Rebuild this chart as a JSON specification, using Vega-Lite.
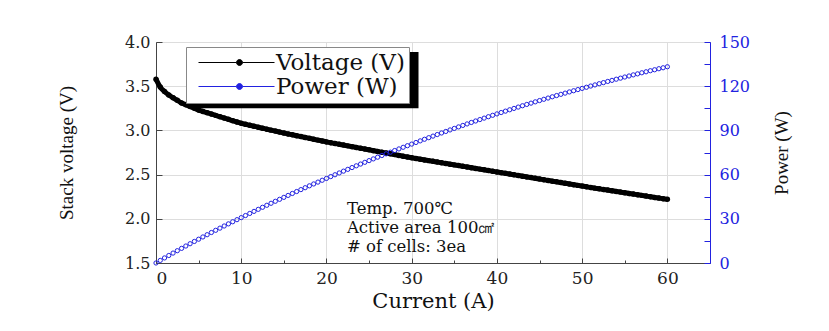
{
  "$schema": "https://vega.github.io/schema/vega-lite/v6.json",
  "width": 554,
  "height": 221,
  "autosize": {"type": "none"},
  "padding": {"left": 156, "top": 42, "right": 119, "bottom": 68},
  "background": "white",
  "config": {
    "view": {"stroke": "#555555", "strokeWidth": 1},
    "font": "DejaVu Serif",
    "axis": {"titleFontWeight": "normal", "labelFont": "DejaVu Serif", "titleFont": "DejaVu Serif"},
    "legend": {
      "orient": "none",
      "legendX": 30,
      "legendY": 5,
      "strokeColor": "#888888",
      "fillColor": "white",
      "padding": 4,
      "rowPadding": 0,
      "labelFont": "DejaVu Serif",
      "labelFontSize": 23,
      "labelColor": "#111111",
      "labelOffset": 63,
      "symbolSize": 100,
      "symbolType": "M-0.6,0H7M8.2,0H14.6M7,0A0.6,0.6 0 1,0 8.2,0A0.6,0.6 0 1,0 7,0",
      "symbolStrokeWidth": 1
    }
  },
  "data": {
    "values": [
      {"I": 0, "V": 3.58, "P": 0},
      {"I": 0.5, "V": 3.49, "P": 1.75},
      {"I": 1, "V": 3.44, "P": 3.44},
      {"I": 1.5, "V": 3.4, "P": 5.1},
      {"I": 2, "V": 3.37, "P": 6.74},
      {"I": 2.5, "V": 3.34, "P": 8.35},
      {"I": 3, "V": 3.31, "P": 9.93},
      {"I": 3.5, "V": 3.29, "P": 11.52},
      {"I": 4, "V": 3.27, "P": 13.08},
      {"I": 4.5, "V": 3.25, "P": 14.63},
      {"I": 5, "V": 3.23, "P": 16.15},
      {"I": 5.5, "V": 3.215, "P": 17.68},
      {"I": 6, "V": 3.2, "P": 19.2},
      {"I": 6.5, "V": 3.185, "P": 20.7},
      {"I": 7, "V": 3.17, "P": 22.19},
      {"I": 7.5, "V": 3.155, "P": 23.66},
      {"I": 8, "V": 3.14, "P": 25.12},
      {"I": 8.5, "V": 3.125, "P": 26.56},
      {"I": 9, "V": 3.11, "P": 27.99},
      {"I": 9.5, "V": 3.095, "P": 29.4},
      {"I": 10, "V": 3.08, "P": 30.8},
      {"I": 10.5, "V": 3.069, "P": 32.22},
      {"I": 11, "V": 3.058, "P": 33.64},
      {"I": 11.5, "V": 3.047, "P": 35.04},
      {"I": 12, "V": 3.036, "P": 36.43},
      {"I": 12.5, "V": 3.025, "P": 37.81},
      {"I": 13, "V": 3.014, "P": 39.18},
      {"I": 13.5, "V": 3.003, "P": 40.54},
      {"I": 14, "V": 2.992, "P": 41.89},
      {"I": 14.5, "V": 2.981, "P": 43.22},
      {"I": 15, "V": 2.97, "P": 44.55},
      {"I": 15.5, "V": 2.96, "P": 45.88},
      {"I": 16, "V": 2.95, "P": 47.2},
      {"I": 16.5, "V": 2.94, "P": 48.51},
      {"I": 17, "V": 2.93, "P": 49.81},
      {"I": 17.5, "V": 2.92, "P": 51.1},
      {"I": 18, "V": 2.91, "P": 52.38},
      {"I": 18.5, "V": 2.9, "P": 53.65},
      {"I": 19, "V": 2.89, "P": 54.91},
      {"I": 19.5, "V": 2.88, "P": 56.16},
      {"I": 20, "V": 2.87, "P": 57.4},
      {"I": 20.5, "V": 2.861, "P": 58.65},
      {"I": 21, "V": 2.852, "P": 59.89},
      {"I": 21.5, "V": 2.843, "P": 61.12},
      {"I": 22, "V": 2.834, "P": 62.35},
      {"I": 22.5, "V": 2.825, "P": 63.56},
      {"I": 23, "V": 2.816, "P": 64.77},
      {"I": 23.5, "V": 2.807, "P": 65.96},
      {"I": 24, "V": 2.798, "P": 67.15},
      {"I": 24.5, "V": 2.789, "P": 68.33},
      {"I": 25, "V": 2.78, "P": 69.5},
      {"I": 25.5, "V": 2.771, "P": 70.66},
      {"I": 26, "V": 2.762, "P": 71.81},
      {"I": 26.5, "V": 2.753, "P": 72.95},
      {"I": 27, "V": 2.744, "P": 74.09},
      {"I": 27.5, "V": 2.735, "P": 75.21},
      {"I": 28, "V": 2.726, "P": 76.33},
      {"I": 28.5, "V": 2.717, "P": 77.43},
      {"I": 29, "V": 2.708, "P": 78.53},
      {"I": 29.5, "V": 2.699, "P": 79.62},
      {"I": 30, "V": 2.69, "P": 80.7},
      {"I": 30.5, "V": 2.682, "P": 81.8},
      {"I": 31, "V": 2.674, "P": 82.89},
      {"I": 31.5, "V": 2.666, "P": 83.98},
      {"I": 32, "V": 2.658, "P": 85.06},
      {"I": 32.5, "V": 2.65, "P": 86.13},
      {"I": 33, "V": 2.642, "P": 87.19},
      {"I": 33.5, "V": 2.634, "P": 88.24},
      {"I": 34, "V": 2.626, "P": 89.28},
      {"I": 34.5, "V": 2.618, "P": 90.32},
      {"I": 35, "V": 2.61, "P": 91.35},
      {"I": 35.5, "V": 2.602, "P": 92.37},
      {"I": 36, "V": 2.594, "P": 93.38},
      {"I": 36.5, "V": 2.586, "P": 94.39},
      {"I": 37, "V": 2.578, "P": 95.39},
      {"I": 37.5, "V": 2.57, "P": 96.38},
      {"I": 38, "V": 2.562, "P": 97.36},
      {"I": 38.5, "V": 2.554, "P": 98.33},
      {"I": 39, "V": 2.546, "P": 99.29},
      {"I": 39.5, "V": 2.538, "P": 100.25},
      {"I": 40, "V": 2.53, "P": 101.2},
      {"I": 40.5, "V": 2.522, "P": 102.14},
      {"I": 41, "V": 2.514, "P": 103.07},
      {"I": 41.5, "V": 2.506, "P": 104.0},
      {"I": 42, "V": 2.498, "P": 104.92},
      {"I": 42.5, "V": 2.49, "P": 105.83},
      {"I": 43, "V": 2.482, "P": 106.73},
      {"I": 43.5, "V": 2.474, "P": 107.62},
      {"I": 44, "V": 2.466, "P": 108.5},
      {"I": 44.5, "V": 2.458, "P": 109.38},
      {"I": 45, "V": 2.45, "P": 110.25},
      {"I": 45.5, "V": 2.442, "P": 111.11},
      {"I": 46, "V": 2.434, "P": 111.96},
      {"I": 46.5, "V": 2.426, "P": 112.81},
      {"I": 47, "V": 2.418, "P": 113.65},
      {"I": 47.5, "V": 2.41, "P": 114.48},
      {"I": 48, "V": 2.402, "P": 115.3},
      {"I": 48.5, "V": 2.394, "P": 116.11},
      {"I": 49, "V": 2.386, "P": 116.91},
      {"I": 49.5, "V": 2.378, "P": 117.71},
      {"I": 50, "V": 2.37, "P": 118.5},
      {"I": 50.5, "V": 2.362, "P": 119.28},
      {"I": 51, "V": 2.355, "P": 120.11},
      {"I": 51.5, "V": 2.347, "P": 120.87},
      {"I": 52, "V": 2.34, "P": 121.68},
      {"I": 52.5, "V": 2.332, "P": 122.43},
      {"I": 53, "V": 2.325, "P": 123.23},
      {"I": 53.5, "V": 2.317, "P": 123.96},
      {"I": 54, "V": 2.31, "P": 124.74},
      {"I": 54.5, "V": 2.302, "P": 125.46},
      {"I": 55, "V": 2.295, "P": 126.23},
      {"I": 55.5, "V": 2.287, "P": 126.93},
      {"I": 56, "V": 2.28, "P": 127.68},
      {"I": 56.5, "V": 2.272, "P": 128.37},
      {"I": 57, "V": 2.265, "P": 129.11},
      {"I": 57.5, "V": 2.257, "P": 129.78},
      {"I": 58, "V": 2.25, "P": 130.5},
      {"I": 58.5, "V": 2.242, "P": 131.16},
      {"I": 59, "V": 2.235, "P": 131.87},
      {"I": 59.5, "V": 2.227, "P": 132.51},
      {"I": 60, "V": 2.22, "P": 133.2}
    ]
  },
  "layer": [
    {
      "layer": [
        {
          "transform": [{"filter": "datum.I === 0"}],
          "mark": {"type": "rect", "color": "black"},
          "encoding": {
            "x": {"datum": 4.1, "type": "quantitative", "scale": {"domain": [0, 65], "nice": false}},
            "x2": {"datum": 30.8},
            "y": {"datum": 3.887, "type": "quantitative", "scale": {"domain": [1.5, 4.0], "nice": false, "zero": false}},
            "y2": {"datum": 3.25}
          }
        },
        {
          "mark": {"type": "line", "strokeWidth": 5, "interpolate": "monotone"},
          "encoding": {
            "x": {
              "field": "I",
              "type": "quantitative",
              "axis": {
                "title": "Current (A)",
                "titleFontSize": 21,
                "titleColor": "#111111",
                "titlePadding": 4,
                "values": [0, 5, 10, 15, 20, 25, 30, 35, 40, 45, 50, 55, 60],
                "labelExpr": "datum.value % 10 === 0 ? datum.label : ''",
                "labelFontSize": 17,
                "labelColor": "#222222",
                "labelPadding": 12,
                "domainColor": "#444444",
                "tickColor": "#444444",
                "tickSize": {"condition": {"test": "datum.value % 10 === 0", "value": -5}, "value": -3},
                "grid": true,
                "gridColor": {"condition": {"test": "datum.value % 10 !== 0", "value": "transparent"}, "value": "#dddddd"}
              }
            },
            "y": {
              "field": "V",
              "type": "quantitative",
              "axis": {
                "title": "Stack voltage (V)",
                "titleFont": "Liberation Serif",
                "titleFontSize": 19,
                "titleColor": "#111111",
                "titlePadding": 48,
                "values": [1.5, 1.75, 2.0, 2.25, 2.5, 2.75, 3.0, 3.25, 3.5, 3.75, 4.0],
                "format": ".1f",
                "labelExpr": "(datum.value * 4) % 2 === 0 ? datum.label : ''",
                "labelFontSize": 16,
                "labelColor": "#222222",
                "labelPadding": 12,
                "domainColor": "#444444",
                "tickColor": "#444444",
                "tickSize": -6,
                "grid": true,
                "gridColor": {"condition": {"test": "(datum.value * 4) % 2 !== 0", "value": "transparent"}, "value": "#dddddd"}
              }
            },
            "color": {
              "datum": "Voltage (V)",
              "type": "nominal",
              "scale": {"domain": ["Voltage (V)", "Power (W)"], "range": ["black", "#2222e0"]},
              "legend": {
                "title": null,
                "encode": {
                  "symbols": {
                    "update": {
                      "fill": {"signal": "datum.value === 'Voltage (V)' ? 'black' : 'white'"},
                      "stroke": {"signal": "datum.value === 'Voltage (V)' ? '#333333' : '#2222e0'"},
                      "strokeWidth": {"value": 1},
                      "opacity": {"value": 1}
                    }
                  }
                }
              }
            }
          }
        },
        {
          "mark": {"type": "point", "filled": true, "size": 30, "opacity": 1},
          "encoding": {
            "x": {"field": "I", "type": "quantitative"},
            "y": {"field": "V", "type": "quantitative"},
            "color": {"datum": "Voltage (V)", "type": "nominal"}
          }
        },
        {
          "transform": [{"filter": "datum.I === 0"}],
          "mark": {"type": "text", "align": "left", "baseline": "top", "font": "DejaVu Serif", "fontSize": 16.5, "lineHeight": 19, "color": "#111111"},
          "encoding": {
            "x": {"datum": 22.4, "type": "quantitative"},
            "y": {"datum": 2.2, "type": "quantitative"},
            "text": {"value": ["Temp. 700℃", "Active area 100㎠", "# of cells: 3ea"]}
          }
        }
      ]
    },
    {
      "mark": {"type": "point", "filled": false, "size": 18, "strokeWidth": 1, "opacity": 1},
      "encoding": {
        "x": {"field": "I", "type": "quantitative"},
        "y": {
          "field": "P",
          "type": "quantitative",
          "scale": {"domain": [0, 150], "nice": false},
          "axis": {
            "orient": "right",
            "title": "Power (W)",
            "titleFont": "Liberation Serif",
            "titleFontSize": 19,
            "titleColor": "#111111",
            "titleAngle": 270,
            "titlePadding": 42,
            "values": [0, 15, 30, 45, 60, 75, 90, 105, 120, 135, 150],
            "labelExpr": "datum.value % 30 === 0 ? datum.label : ''",
            "labelFontSize": 16,
            "labelColor": "#2222e0",
            "labelPadding": 15,
            "domainColor": "#2222e0",
            "tickColor": "#2222e0",
            "tickSize": -6,
            "grid": false
          }
        },
        "color": {"datum": "Power (W)", "type": "nominal"}
      }
    }
  ],
  "resolve": {"scale": {"y": "independent"}}
}
